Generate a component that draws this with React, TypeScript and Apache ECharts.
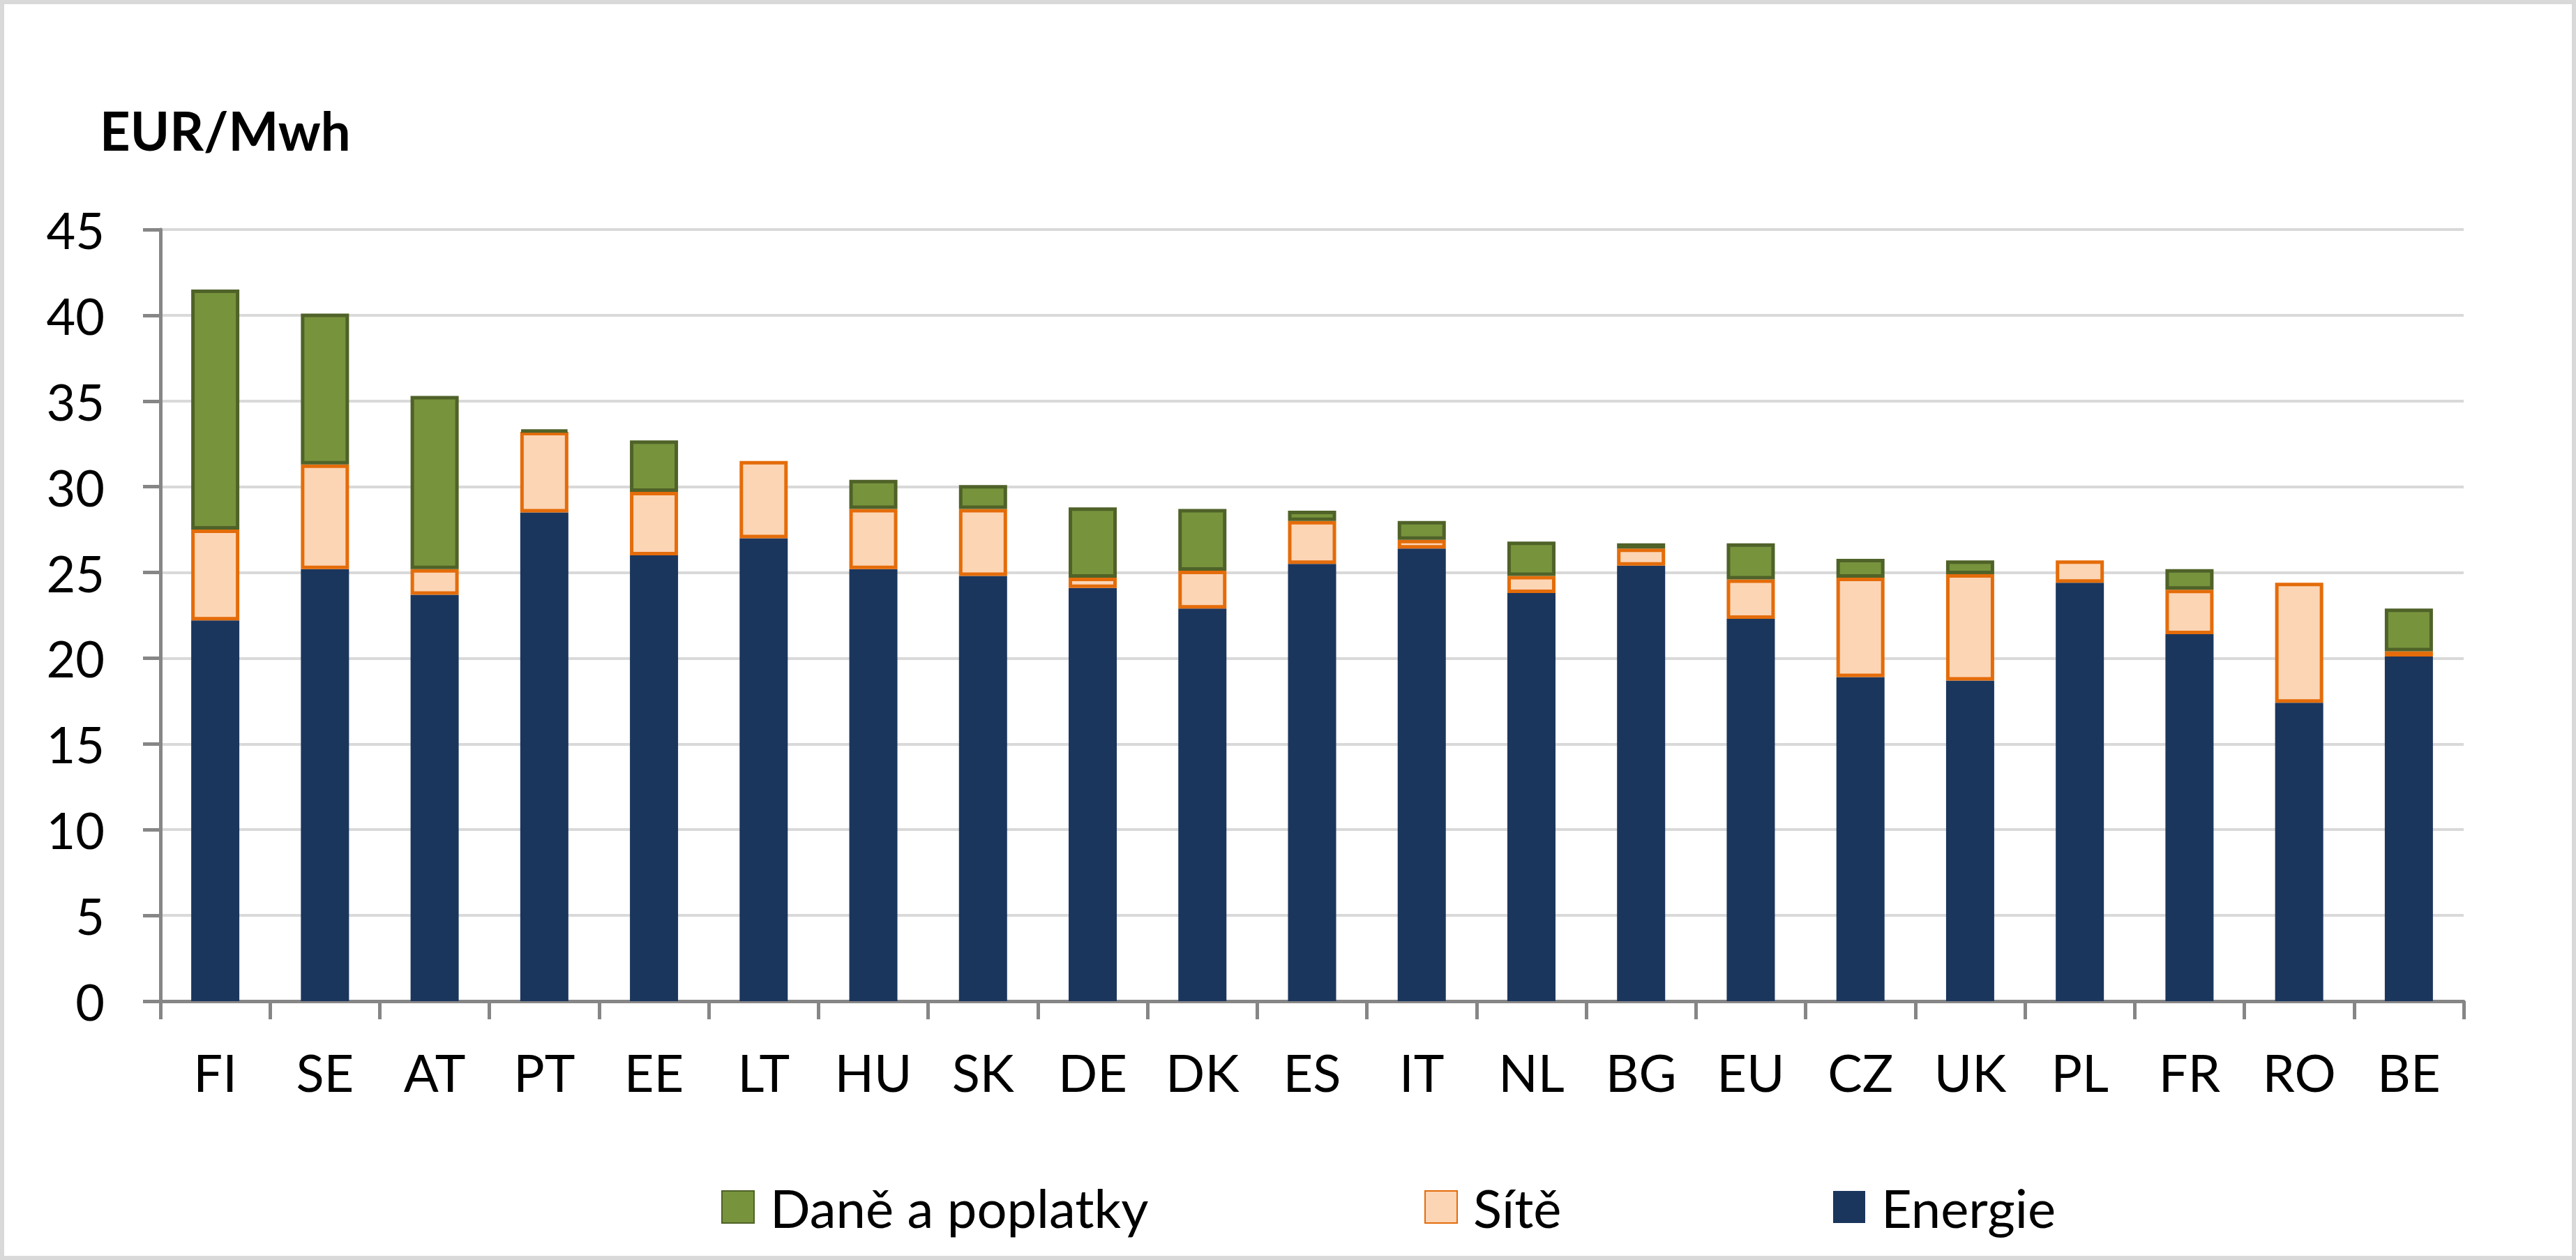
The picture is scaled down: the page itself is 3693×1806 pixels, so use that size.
import { useEffect, useRef } from 'react';
import * as echarts from 'echarts';

const categories = ['FI', 'SE', 'AT', 'PT', 'EE', 'LT', 'HU', 'SK', 'DE', 'DK', 'ES', 'IT', 'NL', 'BG', 'EU', 'CZ', 'UK', 'PL', 'FR', 'RO', 'BE'];
const energie = [22.2, 25.2, 23.7, 28.5, 26.0, 27.0, 25.2, 24.8, 24.1, 22.9, 25.5, 26.4, 23.8, 25.4, 22.3, 18.9, 18.7, 24.4, 21.4, 17.4, 20.1];
const site = [5.3, 6.1, 1.5, 4.7, 3.7, 4.5, 3.5, 3.9, 0.6, 2.2, 2.5, 0.5, 1.0, 1.0, 2.3, 5.8, 6.2, 1.3, 2.6, 7.0, 0.3];
const dane = [14.0, 8.8, 10.1, 0.1, 3.0, 0, 1.7, 1.4, 4.1, 3.6, 0.6, 1.1, 2.0, 0.3, 2.1, 1.1, 0.8, 0, 1.2, 0, 2.5];
const yTicks = { min: 0, max: 45, interval: 5 };

const FONT = 'Lato';
const AXIS_GRAY = '#868686';

// empty segments are not drawn (no zero-height outline)
const seg = (arr: number[]) => arr.map((v) => (v === 0 ? '-' : v));

export default function App() {
  const chartRef = useRef<HTMLDivElement>(null);

  useEffect(() => {
    if (!chartRef.current) return;
    const chart = echarts.init(chartRef.current, undefined, { renderer: 'svg' });

    const legendBase = {
      orient: 'horizontal' as const,
      top: 1692,
      padding: 0,
      icon: 'rect',
      itemWidth: 46,
      itemHeight: 46,
      selectedMode: false,
      textStyle: { color: '#000', fontSize: 76, fontFamily: FONT, padding: [0, 0, 0, 18] },
    };

    const option: echarts.EChartsOption = {
      animation: false,
      backgroundColor: '#fff',
      grid: { left: 230, right: 161, top: 329, bottom: 371, containLabel: false },
      graphic: [
        {
          type: 'rect',
          shape: { x: 3, y: 3, width: 3687, height: 1800 },
          style: { fill: 'none', stroke: '#d9d9d9', lineWidth: 6 },
          silent: true,
        },
        {
          type: 'text',
          x: 143,
          y: 186,
          style: {
            text: 'EUR/Mwh',
            fill: '#000',
            font: `bold 76px ${FONT}`,
            verticalAlign: 'middle',
          },
        },
      ],
      legend: [
        { ...legendBase, left: 1034, data: ['Daně a poplatky'] },
        { ...legendBase, left: 2042, data: ['Sítě'] },
        { ...legendBase, left: 2628, data: ['Energie'] },
      ],
      xAxis: {
        type: 'category',
        data: categories,
        axisLine: { lineStyle: { color: AXIS_GRAY, width: 5 } },
        axisTick: { show: true, length: 26, lineStyle: { color: AXIS_GRAY, width: 5 } },
        axisLabel: { color: '#000', fontSize: 74, fontFamily: FONT, margin: 64, interval: 0 },
      },
      yAxis: {
        type: 'value',
        min: yTicks.min,
        max: yTicks.max,
        interval: yTicks.interval,
        axisLine: { show: true, lineStyle: { color: AXIS_GRAY, width: 5 } },
        axisTick: { show: true, length: 25, lineStyle: { color: AXIS_GRAY, width: 5 } },
        axisLabel: { color: '#000', fontSize: 72, fontFamily: FONT, margin: 80 },
        splitLine: { lineStyle: { color: '#d9d9d9', width: 4 } },
      },
      series: [
        {
          name: 'Energie',
          type: 'bar',
          stack: 'total',
          barWidth: 69,
          data: seg(energie),
          itemStyle: { color: '#1b365d', borderColor: '#1b365d', borderWidth: 0 },
        },
        {
          name: 'Sítě',
          type: 'bar',
          stack: 'total',
          barWidth: 69,
          data: seg(site),
          itemStyle: { color: '#fcd5b5', borderColor: '#e46c0a', borderWidth: 5 },
        },
        {
          name: 'Daně a poplatky',
          type: 'bar',
          stack: 'total',
          barWidth: 69,
          data: seg(dane),
          itemStyle: { color: '#77933c', borderColor: '#4f6228', borderWidth: 5 },
        },
      ],
    };

    chart.setOption(option);
    return () => chart.dispose();
  }, []);

  return (
    <div style={{ position: 'fixed', left: 0, top: 0, width: 3693, height: 1806, background: '#fff' }}>
      <div ref={chartRef} style={{ width: 3693, height: 1806 }} />
    </div>
  );
}
